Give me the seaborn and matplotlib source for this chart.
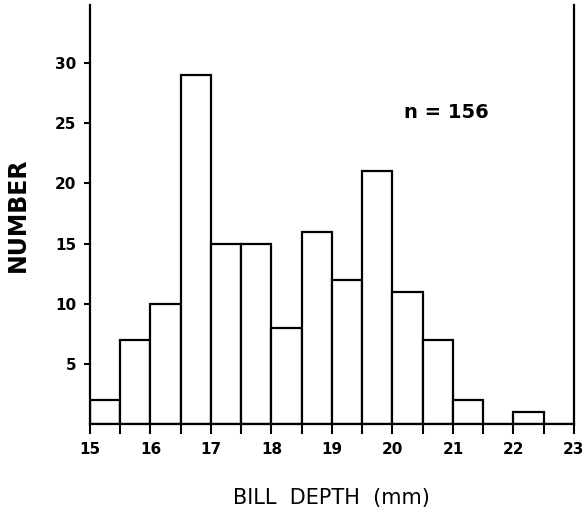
import matplotlib
matplotlib.use("Agg")
import matplotlib.pyplot as plt
import seaborn as sns
import numpy as np

# Data
bin_edges = [15.0, 15.5, 16.0, 16.5, 17.0, 17.5, 18.0, 18.5, 19.0, 19.5,
             20.0, 20.5, 21.0, 21.5, 22.0, 22.5, 23.0]
counts = [2, 7, 10, 29, 15, 15, 8, 16, 12, 21, 11, 7, 2, 0, 1, 0]
x_ticks = [15, 16, 17, 18, 19, 20, 21, 22, 23]
y_ticks = [5, 10, 15, 20, 25, 30]

centers = [(a + b) / 2 for a, b in zip(bin_edges[:-1], bin_edges[1:])]

sns.set_style("ticks")
plt.rcParams['font.family'] = ['DejaVu Sans']
plt.rcParams.update({"text.color": "black", "axes.labelcolor": "black",
                     "xtick.color": "black", "ytick.color": "black",
                     "axes.edgecolor": "black"})

fig = plt.figure(figsize=(5.88, 5.21), dpi=100)
ax = fig.add_axes([0.153, 0.186, 0.823, 0.804])

sns.histplot(x=centers, weights=counts, bins=bin_edges, ax=ax,
             color="white", edgecolor="black", linewidth=1.6, alpha=1)

ax.set_xlim(15, 23)
ax.set_ylim(0, 34.8)

ax.set_xticks(x_ticks)
ax.set_xticklabels([str(t) for t in x_ticks], fontweight="bold", fontsize=11)
ax.set_xticks(bin_edges, minor=True)
ax.tick_params(axis="x", which="both", direction="out", length=7, width=1.5, pad=6)
ax.set_yticks(y_ticks)
ax.set_yticklabels([str(t) for t in y_ticks], fontweight="bold", fontsize=11)
ax.tick_params(axis="y", direction="out", length=4, width=1.5, pad=6)

for s in ["left", "bottom", "right"]:
    ax.spines[s].set_linewidth(1.6)
    ax.spines[s].set_color("black")
ax.spines["top"].set_visible(False)

ax.set_xlabel("BILL  DEPTH  (mm)", fontsize=15, labelpad=22)
ax.set_ylabel("NUMBER", fontsize=17, fontweight="bold", labelpad=18)

ax.text(20.9, 25.9, "n = 156", fontsize=14, fontweight="bold",
        ha="center", va="center")

fig.savefig("out.png", dpi=100)
